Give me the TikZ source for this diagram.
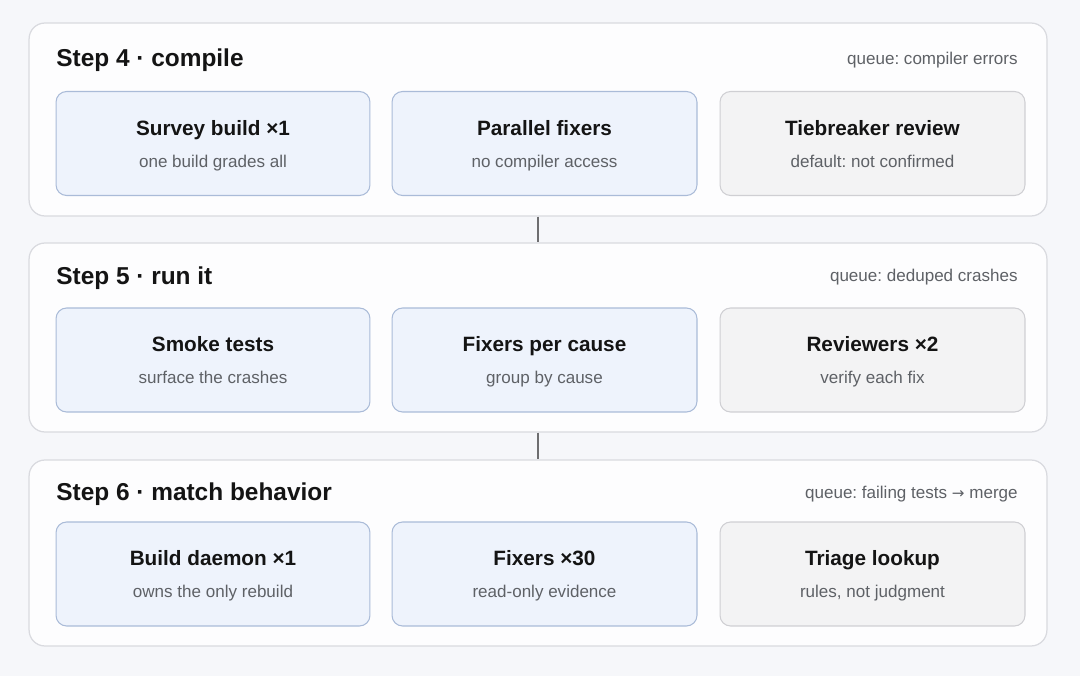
\documentclass[tikz,border=0pt]{standalone}
\usepackage{fontspec}
\setmainfont{Liberation Sans}
\newfontfamily\arrowfont{DejaVu Sans}
\usetikzlibrary{positioning}
\frenchspacing

\definecolor{pagebg}{HTML}{F6F7FA}
\definecolor{panelfill}{HTML}{FDFDFE}
\definecolor{paneldraw}{HTML}{D9DADF}
\definecolor{bluefill}{HTML}{EEF3FC}
\definecolor{bluedraw}{HTML}{AABBD8}
\definecolor{grayfill}{HTML}{F3F3F4}
\definecolor{graydraw}{HTML}{CFCFD3}
\definecolor{titleink}{HTML}{141414}
\definecolor{subink}{HTML}{5E6166}
\definecolor{linkink}{HTML}{6E6E70}

\tikzset{
  panel/.style={draw=paneldraw, fill=panelfill, line width=0.7pt, rounded corners=9pt,
    minimum width=20.36cm, inner sep=0pt},
  stagebox/.style={line width=0.6pt, rounded corners=6pt, inner sep=0pt, minimum height=2.08cm},
  bluebox/.style={stagebox, draw=bluedraw, fill=bluefill},
  graybox/.style={stagebox, draw=graydraw, fill=grayfill},
  steptitle/.style={anchor=base west, inner sep=0pt, text=titleink, font=\fontsize{13.9}{16}\selectfont\bfseries},
  queuetext/.style={anchor=base east, inner sep=0pt, text=subink, font=\fontsize{9.7}{11}\selectfont},
  boxtitle/.style={anchor=base, inner sep=0pt, text=titleink, font=\fontsize{11.8}{14}\selectfont\bfseries},
  boxsub/.style={anchor=base, inner sep=0pt, text=subink, font=\fontsize{9.7}{11}\selectfont},
  link/.style={draw=linkink, line width=1pt}
}

\begin{document}
\begin{tikzpicture}[x=0.02cm, y=-0.02cm]
    % Page
    \fill[pagebg] (0,0) rectangle (1080,676);

    % Panels
    \node[panel, minimum height=3.86cm] (p4) at (538,119.5) {};
    \node[panel, minimum height=3.78cm] (p5) at (538,337.5) {};
    \node[panel, minimum height=3.72cm] (p6) at (538,553) {};

    % Links between steps
    \draw[link] (p4.south) -- (p5.north);
    \draw[link] (p5.south) -- (p6.north);

    % Step 4: compile
    \node[steptitle] (s4) at (56,67) {Step 4 · compile};
    \node[queuetext] (q4) at (1018,64) {queue: compiler errors};
    \node[bluebox, minimum width=6.28cm] (b41) at (213,143.5) {};
    \node[bluebox, minimum width=6.1cm] (b42) at (544.5,143.5) {};
    \node[graybox, minimum width=6.1cm] (b43) at (872.5,143.5) {};
    \node[boxtitle] (t41) at (213,135) {Survey build ×1};
    \node[boxsub] (u41) at (213,167) {one build grades all};
    \node[boxtitle] (t42) at (544.5,135) {Parallel fixers};
    \node[boxsub] (u42) at (544.5,167) {no compiler access};
    \node[boxtitle] (t43) at (872.5,135) {Tiebreaker review};
    \node[boxsub] (u43) at (872.5,167) {default: not confirmed};

    % Step 5: run it
    \node[steptitle] (s5) at (56,284) {Step 5 · run it};
    \node[queuetext] (q5) at (1018,281) {queue: deduped crashes};
    \node[bluebox, minimum width=6.28cm] (b51) at (213,360) {};
    \node[bluebox, minimum width=6.1cm] (b52) at (544.5,360) {};
    \node[graybox, minimum width=6.1cm] (b53) at (872.5,360) {};
    \node[boxtitle] (t51) at (213,351) {Smoke tests};
    \node[boxsub] (u51) at (213,383) {surface the crashes};
    \node[boxtitle] (t52) at (544.5,351) {Fixers per cause};
    \node[boxsub] (u52) at (544.5,383) {group by cause};
    \node[boxtitle] (t53) at (872.5,351) {Reviewers ×2};
    \node[boxsub] (u53) at (872.5,383) {verify each fix};

    % Step 6: match behavior
    \node[steptitle] (s6) at (56,500) {Step 6 · match behavior};
    \node[queuetext] (q6) at (1018,498) {queue: failing tests {\arrowfont\fontsize{8.6}{11}\selectfont →} merge};
    \node[bluebox, minimum width=6.28cm] (b61) at (213,574) {};
    \node[bluebox, minimum width=6.1cm] (b62) at (544.5,574) {};
    \node[graybox, minimum width=6.1cm] (b63) at (872.5,574) {};
    \node[boxtitle] (t61) at (213,565) {Build daemon ×1};
    \node[boxsub] (u61) at (213,597) {owns the only rebuild};
    \node[boxtitle] (t62) at (544.5,565) {Fixers ×30};
    \node[boxsub] (u62) at (544.5,597) {read-only evidence};
    \node[boxtitle] (t63) at (872.5,565) {Triage lookup};
    \node[boxsub] (u63) at (872.5,597) {rules, not judgment};
\end{tikzpicture}
\end{document}
